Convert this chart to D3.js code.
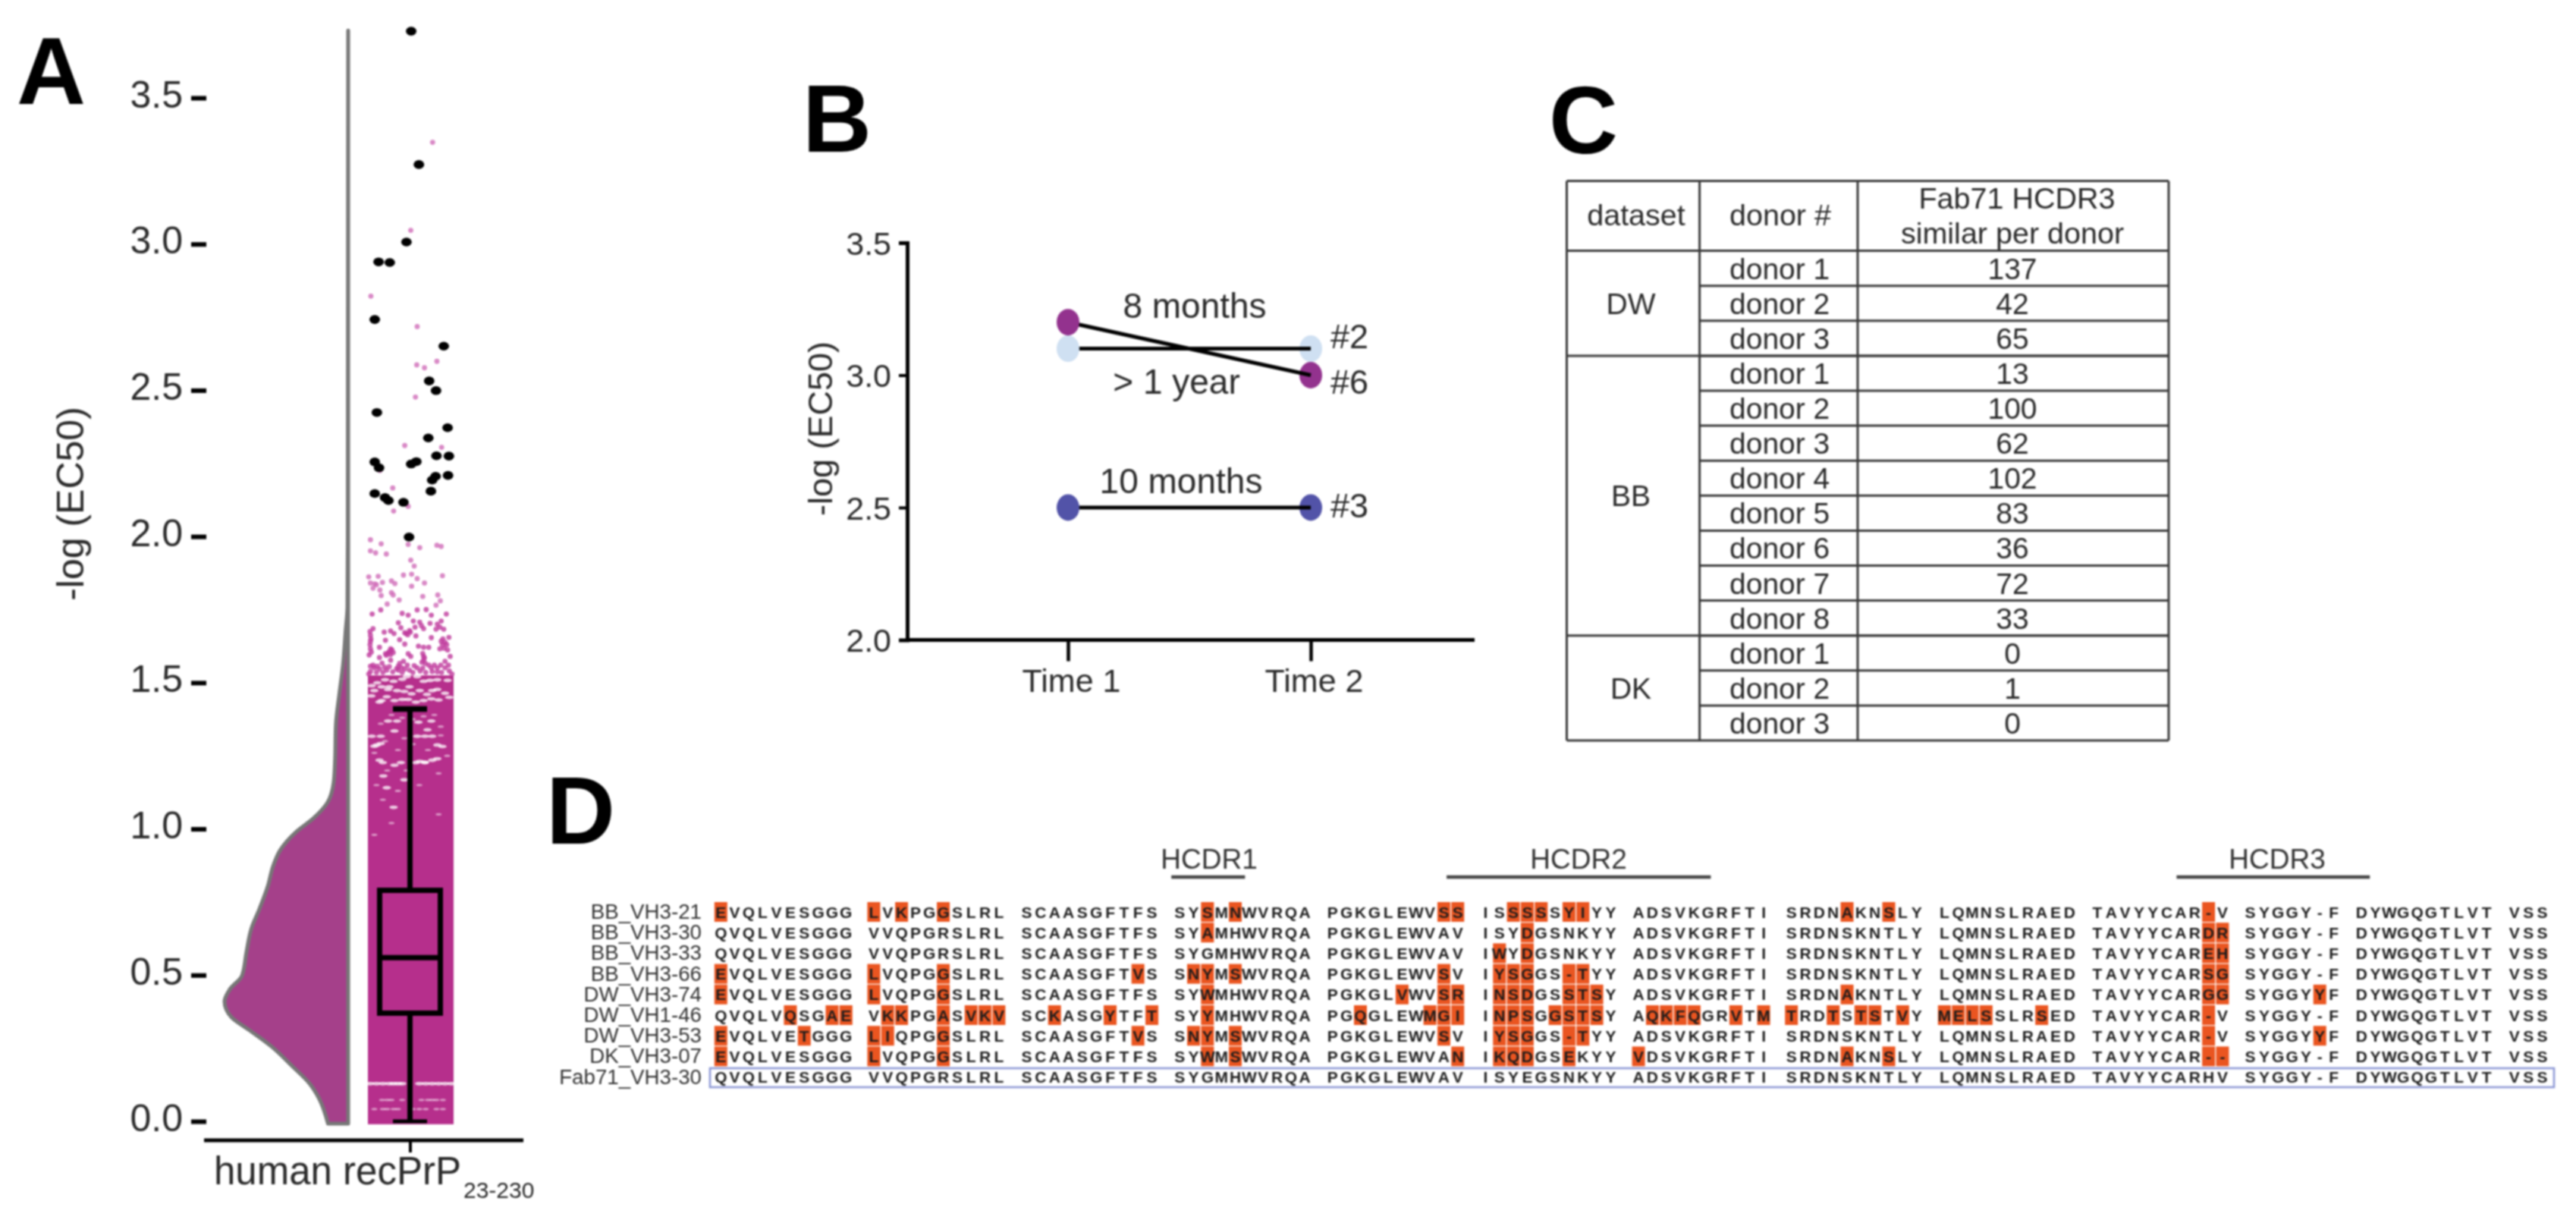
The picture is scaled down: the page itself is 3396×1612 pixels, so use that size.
<!DOCTYPE html>
<html><head><meta charset="utf-8">
<script src="https://cdnjs.cloudflare.com/ajax/libs/d3/7.8.5/d3.min.js"></script>
<style>
html,body{margin:0;padding:0;background:#fff}
svg{display:block;filter:blur(0.8px)}
text{font-family:"Liberation Sans",Arial,sans-serif;fill:#2a2a2a}
</style></head><body>
<script>
// ---------- Panel A data ----------
const aTicks=[0,0.5,1,1.5,2,2.5,3,3.5];
const violinValues=[-0.008,0.081,0.128,0.188,0.256,0.309,0.356,0.383,0.41,0.451,0.498,0.578,0.659,0.726,0.807,0.874,0.928,0.989,1.036,1.089,1.157,1.224,1.358,1.466,1.56,1.68,1.76,2.0,3.73];
const violinDensity=[0.163,0.239,0.31,0.451,0.62,0.789,0.944,0.986,1,0.958,0.859,0.823,0.783,0.718,0.648,0.606,0.549,0.423,0.282,0.169,0.118,0.107,0.099,0.07,0.042,0.02,0.006,0.003,0];
const boxValues=[0,0.37,0.56,0.79,1.41];
const denseRange=[-0.01,1.525];
const outliers=[[0.01,3.728],[0.19,3.272],[-0.10,3.007],[-0.75,2.939],[-0.49,2.937],[-0.84,2.742],[0.77,2.651],[0.43,2.532],[0.59,2.499],[-0.79,2.424],[0.86,2.372],[0.41,2.337],[0.60,2.276],[0.89,2.275],[0.13,2.256],[0.01,2.248],[-0.84,2.255],[-0.74,2.235],[0.87,2.209],[0.58,2.206],[0.50,2.193],[-0.84,2.147],[-0.60,2.133],[-0.52,2.123],[0.47,2.155],[-0.17,2.117],[-0.04,1.998]];
const sparsePoints=[[0.51,3.348],[0,3.047],[-0.93,2.822],[0.15,2.718],[0.14,2.587],[0.32,2.577],[0.61,2.599],[0.11,2.477],[-0.14,2.311],[0.72,2.305],[0.86,2.378],[-0.72,2.226],[-0.42,2.166],[-0.40,2.087],[-0.06,2.103],
[-0.94,1.989],[-0.69,1.975],[-0.94,1.951],[-0.82,1.944],[-0.57,1.94],[-0.06,1.973],[0.21,1.962],[0.61,1.97],[0.71,1.966],[0,1.919],[0.08,1.899],[-0.98,1.862],[-0.76,1.864],[-0.17,1.868],[0.02,1.871],[0.15,1.856],[0.74,1.866],[-0.94,1.841],[-0.84,1.838],[-0.88,1.823],[-0.80,1.835],[-0.66,1.843],[-0.45,1.848],[-0.37,1.839],[0.02,1.83],[0.32,1.841],[-0.72,1.817],[-0.45,1.808],[-0.41,1.80],[-0.69,1.798],[0.28,1.795],[0.63,1.80],[-0.27,1.783],[0.69,1.78],[-0.55,1.769],[0.59,1.765],
[-0.90,1.735],[-0.70,1.749],[-0.20,1.737],[-0.06,1.731],[0.15,1.749],[0.36,1.75],[0.48,1.731],[-0.29,1.705],[0.06,1.711],[0.21,1.707],[0.30,1.685],[0.45,1.703],[0.71,1.711],[0.83,1.735],[-0.88,1.685],[-0.23,1.688],[0.59,1.683],[0.77,1.683],[-0.62,1.673],[-0.47,1.677],[-0.39,1.668],[-0.11,1.668],[-0.01,1.673],[0.12,1.66],[-0.94,1.662],[-0.59,1.645],[-0.26,1.647],[0.48,1.654],[0.89,1.655],[-0.94,1.642],[-0.14,1.632],[0.18,1.625],[0.30,1.621],[0.42,1.621],[0.71,1.642],[0.80,1.638],[-0.73,1.621],[-0.47,1.616],[-0.94,1.616],[-0.53,1.602],[-0.41,1.603],[-0.06,1.599],[0.68,1.616],[0.86,1.612],[-0.97,1.595],[-0.59,1.599],[0.30,1.59],[-0.73,1.586],[-0.47,1.577],[0,1.59],[0.30,1.577],[0.80,1.573],[-0.67,1.567],[-0.17,1.573],[-0.94,1.556],[-0.85,1.551],[-0.73,1.547],[-0.29,1.556],[-0.14,1.547],[-0.03,1.543],[0.15,1.551],[0.48,1.551],[0.62,1.551],[0.80,1.551],[-0.94,1.538],[-0.29,1.543],[-0.56,1.543],[0.50,1.538],
[-0.8,1.535],[-0.65,1.535],[-0.42,1.537],[-0.2,1.535],[0.05,1.535],[0.22,1.54],[0.35,1.535],[0.62,1.537],[0.72,1.535],[0.9,1.54],[-0.98,1.53],[0.96,1.53],
[-0.14,1.671],[-0.07,1.664],[-0.03,1.678],[-0.50,1.606],[-0.47,1.596],[-0.57,1.594],[-0.44,1.612],[0.28,1.6],[0.32,1.585],[0.26,1.57],[0.34,1.566],[0.75,1.65],[0.84,1.63],[0.78,1.618],[0.74,1.63],[-0.93,1.65],[-0.95,1.63],[-0.92,1.605],[-0.95,1.675],[-0.26,1.566],[-0.33,1.548],[-0.22,1.552],[-0.08,1.56],[-0.88,1.56],[-0.78,1.556],[-0.61,1.553],[-0.5,1.555],[0.08,1.558],[0.28,1.55],[0.42,1.56],[0.55,1.56],[0.7,1.56],[0.88,1.56],[0.92,1.59],[0.62,1.7],[0.68,1.69],[0.25,1.695],[0.1,1.69]];
const whiteFlecks=[[-0.85,1.473],[-0.68,1.486],[-0.53,1.477],[-0.68,1.439],[-0.50,1.486],[-0.03,1.486],[0.21,1.473],[0.62,1.477],[0.80,1.464],[0.45,1.508],[-0.09,1.521],[0.15,1.521],[-0.38,1.439],[-0.06,1.443],[0.30,1.439],[0.65,1.441],[-0.73,1.434],[-0.32,1.473],[0.86,1.508],[-0.91,1.49],[-0.20,1.443],[0.12,1.434],[0.50,1.473],
[-0.6,1.51],[-0.4,1.505],[-0.2,1.512],[0.3,1.505],[0.62,1.51],[-0.78,1.5],[-0.15,1.47],[0.02,1.462],[0.38,1.46],[-0.56,1.452],[0.48,1.445],[0.9,1.45],[-0.92,1.455],
[-0.79,1.287],[-0.85,1.283],[-0.70,1.292],[-0.53,1.369],[-0.32,1.369],[0.18,1.365],[0.48,1.369],[0.15,1.317],[0.33,1.317],[0.50,1.317],[-0.73,1.235],[-0.38,1.218],[0.21,1.231],[0.50,1.235],[0.62,1.24],[0.12,1.227],[-0.65,1.227],[0.62,1.287],[-0.38,1.335],[0.39,1.339],[-0.91,1.317],[-0.70,1.317],[-0.23,1.227],[0.33,1.227],
[-0.56,1.141],[-0.40,1.074],[-0.64,1.181],[-0.15,1.168],[0.33,1.228],[0.74,1.282],
[-0.95,0.129],[-0.8,0.129],[-0.65,0.129],[-0.5,0.129],[-0.4,0.129],[-0.3,0.129],[-0.2,0.129],[0.2,0.129],[0.35,0.129],[0.5,0.129],[0.65,0.129],[0.8,0.129],[0.95,0.129]];
const faintFlecks=[[-0.67,0.073],[-0.55,0.073],[-0.45,0.073],[-0.2,0.073],[0.25,0.073],[0.4,0.073],[0.5,0.073],[0.6,0.073],[0.75,0.073],
[-0.85,0.042],[-0.65,0.042],[-0.55,0.042],[-0.4,0.042],[-0.3,0.042],[0.05,0.042],[0.2,0.042],[0.35,0.042],[0.6,0.042],[0.75,0.042],
[-0.45,1.39],[-0.2,1.38],[0.05,1.375],[0.3,1.385],[0.55,1.39],[-0.7,1.36],[0.7,1.35],[-0.6,1.3],[-0.15,1.31],[0.7,1.32],[-0.85,1.26],[-0.3,1.27],[0.05,1.29],[0.4,1.27],[0.85,1.25],[-0.55,1.2],[-0.1,1.2],[0.65,1.19],[-0.8,1.15],[-0.3,1.13],[0.2,1.15],[-0.65,1.1],[0.65,1.05],[-0.45,1.02],[-0.85,0.98]];

// ---------- Panel B data ----------
const timeLabels=["Time 1","Time 2"];
const bTicks=[2,2.5,3,3.5];
const donorIds=["#3","#2","#6"];
const donorTime1=[2.5,3.1,3.2];
const donorTime2=[2.5,3.1,3.0];
const donorColors=["#5253a8","#cfe0f2","#93328e"];
const intervalLabels=["10 months","> 1 year","8 months"];

// ---------- Panel C data ----------
const headers=["dataset","donor #","Fab71 HCDR3","similar per donor"];
const datasetNames=["DW","BB","DK"];
const datasetSizes=[3,8,3];
const donorNames=["donor 1","donor 2","donor 3","donor 1","donor 2","donor 3","donor 4","donor 5","donor 6","donor 7","donor 8","donor 1","donor 2","donor 3"];
const donorCounts=[137,42,65,13,100,62,102,83,36,72,33,0,1,0];

// ---------- Panel D data ----------
const seqNames=["BB_VH3-21","BB_VH3-30","BB_VH3-33","BB_VH3-66","DW_VH3-74","DW_VH1-46","DW_VH3-53","DK_VH3-07","Fab71_VH3-30"];
const sequences=[
"EVQLVESGGG LVKPGGSLRL SCAASGFTFS SYSMNWVRQA PGKGLEWVSS ISSSSSYIYY ADSVKGRFTI SRDNAKNSLY LQMNSLRAED TAVYYCAR-V SYGGY-F DYWGQGTLVT VSS",
"QVQLVESGGG VVQPGRSLRL SCAASGFTFS SYAMHWVRQA PGKGLEWVAV ISYDGSNKYY ADSVKGRFTI SRDNSKNTLY LQMNSLRAED TAVYYCARDR SYGGY-F DYWGQGTLVT VSS",
"QVQLVESGGG VVQPGRSLRL SCAASGFTFS SYGMHWVRQA PGKGLEWVAV IWYDGSNKYY ADSVKGRFTI SRDNSKNTLY LQMNSLRAED TAVYYCAREH SYGGY-F DYWGQGTLVT VSS",
"EVQLVESGGG LVQPGGSLRL SCAASGFTVS SNYMSWVRQA PGKGLEWVSV IYSGGS-TYY ADSVKGRFTI SRDNSKNTLY LQMNSLRAED TAVYYCARSG SYGGY-F DYWGQGTLVT VSS",
"EVQLVESGGG LVQPGGSLRL SCAASGFTFS SYWMHWVRQA PGKGLVWVSR INSDGSSTSY ADSVKGRFTI SRDNAKNTLY LQMNSLRAED TAVYYCARGG SYGGYYF DYWGQGTLVT VSS",
"QVQLVQSGAE VKKPGASVKV SCKASGYTFT SYYMHWVRQA PGQGLEWMGI INPSGGSTSY AQKFQGRVTM TRDTSTSTVY MELSSLRSED TAVYYCAR-V SYGGY-F DYWGQGTLVT VSS",
"EVQLVETGGG LIQPGGSLRL SCAASGFTVS SNYMSWVRQA PGKGLEWVSV IYSGGS-TYY ADSVKGRFTI SRDNSKNTLY LQMNSLRAED TAVYYCAR-V SYGGYYF DYWGQGTLVT VSS",
"EVQLVESGGG LVQPGGSLRL SCAASGFTFS SYWMSWVRQA PGKGLEWVAN IKQDGSEKYY VDSVKGRFTI SRDNAKNSLY LQMNSLRAED TAVYYCAR-- SYGGY-F DYWGQGTLVT VSS",
"QVQLVESGGG VVQPGRSLRL SCAASGFTFS SYGMHWVRQA PGKGLEWVAV ISYEGSNKYY ADSVKGRFTI SRDNSKNTLY LQMNSLRAED TAVYYCARHV SYGGY-F DYWGQGTLVT VSS"];
const cdrNames=["HCDR1","HCDR2","HCDR3"];
const cdrStartCol=[32.4,52.2,104.7];
const cdrEndCol=[37.7,71.2,118.6];

// ---------- Drawing ----------
const svg=d3.select("body").append("svg").attr("width",3396).attr("height",1612).attr("viewBox","0 0 3396 1612");
svg.append("rect").attr("width",3396).attr("height",1612).attr("fill","#fff");
const panelLetter=(t,x,y)=>svg.append("text").text(t).attr("x",x).attr("y",y).attr("font-size",126).attr("font-weight",700).style("fill","#000");
panelLetter("A",22,137);panelLetter("B",1058,200);panelLetter("C",2042,202);panelLetter("D",720,1112);

// Panel A
const gA=svg.append("g");
const yA=d3.scaleLinear().domain([0,3.5]).range([1478,129]);
const xD=d3.scaleLinear().domain([0,1]).range([459,296]);
const xJ=d3.scaleLinear().domain([-1,1]).range([485,598]);
const violin=d3.area().curve(d3.curveMonotoneY).y(d=>yA(d[0])).x0(xD(0)).x1(d=>xD(d[1]));
gA.append("path").datum(d3.zip(violinValues,violinDensity)).attr("d",violin).attr("fill","#a5408a").attr("stroke","#777").attr("stroke-width",5).attr("stroke-linejoin","round");
gA.append("rect").attr("x",xJ(-1)).attr("width",xJ(1)-xJ(-1)).attr("y",yA(denseRange[1])).attr("height",yA(denseRange[0])-yA(denseRange[1])).attr("fill","#b62f8c");
gA.append("g").selectAll("ellipse").data(faintFlecks).join("ellipse").attr("cx",d=>xJ(d[0])).attr("cy",d=>yA(d[1])).attr("rx",4).attr("ry",1.6).attr("fill","#fff").attr("opacity",0.5);
gA.append("g").selectAll("ellipse").data(whiteFlecks).join("ellipse").attr("cx",d=>xJ(d[0])).attr("cy",d=>yA(d[1])).attr("rx",5.5).attr("ry",2.4).attr("fill","#fff").attr("opacity",0.75);
gA.append("g").selectAll("circle").data(sparsePoints).join("circle").attr("cx",d=>xJ(d[0])).attr("cy",d=>yA(d[1])).attr("r",3.4).attr("fill",d=>d[1]<1.76?"#bf3a9c":"#d06cb8").attr("opacity",0.8);
gA.append("g").selectAll("ellipse").data(outliers).join("ellipse").attr("cx",d=>xJ(d[0])).attr("cy",d=>yA(d[1])).attr("rx",7).attr("ry",5.8).attr("fill","#000");
// box plot
const bx=d3.scalePoint().domain(["human recPrP"]).range([540.5,540.5]);
const cx=bx("human recPrP"),bw=40,cap=22.5;
gA.append("line").attr("x1",cx).attr("x2",cx).attr("y1",yA(boxValues[0])).attr("y2",yA(boxValues[4])).attr("stroke","#000").attr("stroke-width",7);
gA.append("rect").attr("x",cx-bw).attr("width",bw*2).attr("y",yA(boxValues[3])).attr("height",yA(boxValues[1])-yA(boxValues[3])).attr("fill","#b62f8c").attr("stroke","#000").attr("stroke-width",7);
gA.append("line").attr("x1",cx-bw).attr("x2",cx+bw).attr("y1",yA(boxValues[2])).attr("y2",yA(boxValues[2])).attr("stroke","#000").attr("stroke-width",7);
gA.append("line").attr("x1",cx-cap).attr("x2",cx+cap).attr("y1",yA(boxValues[4])).attr("y2",yA(boxValues[4])).attr("stroke","#000").attr("stroke-width",7.5);
gA.append("line").attr("x1",cx-cap).attr("x2",cx+cap).attr("y1",yA(boxValues[0])).attr("y2",yA(boxValues[0])).attr("stroke","#000").attr("stroke-width",5);
// axes
const axA=gA.append("g").attr("transform","translate(272,0)").call(d3.axisLeft(yA).tickValues(aTicks).tickFormat(d3.format(".1f")).tickSize(20).tickPadding(11));
axA.select(".domain").remove();
axA.selectAll("line").attr("stroke","#000").attr("stroke-width",6);
axA.selectAll("text").attr("font-size",50).attr("dy",".24em").style("font-family",'"Liberation Sans"');
const axAx=gA.append("g").attr("transform","translate(0,1503)").call(d3.axisBottom(bx).tickSize(16).tickFormat(""));
axAx.select(".domain").remove();
axAx.selectAll("line").attr("stroke","#000").attr("stroke-width",4);
gA.append("line").attr("x1",269).attr("x2",690).attr("y1",1503).attr("y2",1503).attr("stroke","#000").attr("stroke-width",5);
const aLab=gA.append("text").attr("x",282).attr("y",1561).attr("font-size",51);
aLab.append("tspan").text("human recPrP");
aLab.append("tspan").text("23-230").attr("font-size",30).attr("dx",3).attr("dy",18);
gA.append("text").text("-log (EC50)").attr("transform","translate(110,664) rotate(-90)").attr("text-anchor","middle").attr("font-size",50);

// Panel B
const gB=svg.append("g");
const yB=d3.scaleLinear().domain([2,3.5]).range([843.5,320]);
const xB=d3.scalePoint().domain(timeLabels).range([1408,1728]);
const axBy=gB.append("g").attr("transform","translate(1196,0)").call(d3.axisLeft(yB).tickValues(bTicks).tickFormat(d3.format(".1f")).tickSize(11).tickPadding(10));
axBy.select(".domain").attr("stroke","#000").attr("stroke-width",5);
axBy.selectAll("line").attr("stroke","#000").attr("stroke-width",4);
axBy.selectAll("text").attr("font-size",43).attr("dy",".35em");
const axBx=gB.append("g").attr("transform","translate(0,843.5)").call(d3.axisBottom(xB).tickSize(28).tickPadding(10));
axBx.select(".domain").remove();
axBx.selectAll("line").attr("stroke","#000").attr("stroke-width",4.5);
axBx.selectAll("text").attr("font-size",43).attr("dx",4).attr("dy",".71em");
gB.append("line").attr("x1",1194).attr("x2",1944).attr("y1",yB(2)).attr("y2",yB(2)).attr("stroke","#000").attr("stroke-width",5);
gB.append("g").selectAll("ellipse").data(donorIds).join("ellipse").attr("cx",xB(timeLabels[1])).attr("cy",(d,i)=>yB(donorTime2[i])).attr("rx",15).attr("ry",17.5).attr("fill",(d,i)=>donorColors[i]);
gB.append("g").selectAll("line").data(donorIds).join("line").attr("x1",xB(timeLabels[0])).attr("x2",xB(timeLabels[1])).attr("y1",(d,i)=>yB(donorTime1[i])).attr("y2",(d,i)=>yB(donorTime2[i])).attr("stroke","#000").attr("stroke-width",5);
gB.append("g").selectAll("ellipse").data(donorIds).join("ellipse").attr("cx",xB(timeLabels[0])).attr("cy",(d,i)=>yB(donorTime1[i])).attr("rx",15).attr("ry",17.5).attr("fill",(d,i)=>donorColors[i]);
const idLabelY=[681.6,459,519];
gB.append("g").selectAll("text").data(donorIds).join("text").text(d=>d).attr("x",1754).attr("y",(d,i)=>idLabelY[i]).attr("font-size",45);
const intervalX=[1557,1551,1575],intervalY=[649.5,519,419];
gB.append("g").selectAll("text").data(intervalLabels).join("text").text(d=>d).attr("x",(d,i)=>intervalX[i]).attr("y",(d,i)=>intervalY[i]).attr("text-anchor","middle").attr("font-size",46);
gB.append("text").text("-log (EC50)").attr("transform","translate(1097,565) rotate(-90)").attr("text-anchor","middle").attr("font-size",45);

// Panel C
const gC=svg.append("g");
const colX=[2065.5,2240.6,2449,2859];
const tTop=238.5,hdr=330.6,tBot=976;
const yT=d3.scaleBand().domain(d3.range(donorCounts.length)).range([hdr,tBot]);
const tl=(x1,x2,y1,y2)=>gC.append("line").attr("x1",x1).attr("x2",x2).attr("y1",y1).attr("y2",y2).attr("stroke","#3a3a3a").attr("stroke-width",3);
colX.forEach(x=>tl(x,x,tTop,tBot));
tl(colX[0],colX[3],tTop,tTop);tl(colX[0],colX[3],hdr,hdr);tl(colX[0],colX[3],tBot,tBot);
donorCounts.forEach((d,i)=>{if(i>0)tl(colX[1],colX[3],yT(i),yT(i));});
let cum=0;
datasetNames.forEach((n,k)=>{
  const a=yT(cum),b=yT(cum)+datasetSizes[k]*yT.bandwidth();
  gC.append("text").text(n).attr("x",2150).attr("y",(a+b)/2+14).attr("text-anchor","middle").attr("font-size",39);
  cum+=datasetSizes[k];
  if(k<2)tl(colX[0],colX[3],b,b);
});
gC.append("text").text(headers[0]).attr("x",2157).attr("y",297).attr("text-anchor","middle").attr("font-size",39.5);
gC.append("text").text(headers[1]).attr("x",2280).attr("y",297).attr("font-size",39.5);
gC.append("text").text(headers[2]).attr("x",2659).attr("y",275).attr("text-anchor","middle").attr("font-size",39.5);
gC.append("text").text(headers[3]).attr("x",2653).attr("y",320.6).attr("text-anchor","middle").attr("font-size",39.5);
gC.append("g").selectAll("text").data(donorNames).join("text").text(d=>d).attr("x",2280).attr("y",(d,i)=>yT(i)+yT.bandwidth()/2+14).attr("font-size",39);
gC.append("g").selectAll("text").data(donorCounts).join("text").text(d=>d).attr("x",2653).attr("y",(d,i)=>yT(i)+yT.bandwidth()/2+14).attr("text-anchor","middle").attr("font-size",39);

// Panel D
const gD=svg.append("g");
const xS=d3.scaleLinear().domain([0,1]).range([950.3,968.63]);
const yS=d3.scaleLinear().domain([0,1]).range([1202,1229.2]);
const refSeq=sequences[sequences.length-1];
const cells=[];
sequences.forEach((s,r)=>{[...s].forEach((c,i)=>{if(c!==" ")cells.push({r,i,c,diff:c!==refSeq[i]});});});
gD.append("g").selectAll("rect").data(cells.filter(d=>d.diff)).join("rect").attr("x",d=>xS(d.i)-8.5).attr("width",17).attr("y",d=>yS(d.r)-13).attr("height",26).attr("fill","#ea5520");
gD.append("g").selectAll("text").data(cells).join("text").text(d=>d.c).attr("x",d=>xS(d.i)).attr("y",d=>yS(d.r)+7.5).attr("text-anchor","middle").attr("font-size",21).attr("font-weight",700).style("fill","#1c1c1c");
gD.append("g").selectAll("text").data(seqNames).join("text").text(d=>d).attr("x",925).attr("y",(d,i)=>yS(i)+9).attr("text-anchor","end").attr("font-size",27.7).style("fill","#333");
gD.append("rect").attr("x",936).attr("width",2431).attr("y",1408).attr("height",25).attr("fill","none").attr("stroke","#8f9ad6").attr("stroke-width",2.6);
gD.append("g").selectAll("line").data(cdrNames).join("line").attr("x1",(d,i)=>xS(cdrStartCol[i])).attr("x2",(d,i)=>xS(cdrEndCol[i])).attr("y1",1156).attr("y2",1156).attr("stroke","#444").attr("stroke-width",4.5);
gD.append("g").selectAll("text").data(cdrNames).join("text").text(d=>d).attr("x",(d,i)=>[1594,2081,3002][i]).attr("y",1145).attr("text-anchor","middle").attr("font-size",37).style("fill","#333");
</script>
</body></html>
